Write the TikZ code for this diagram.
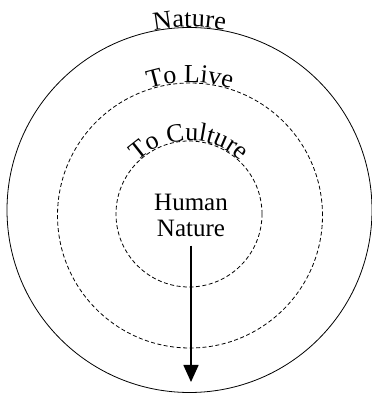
\documentclass[tikz,border=0pt]{standalone}
\usepackage{fontspec}
\setmainfont{Liberation Serif}
\usetikzlibrary{decorations.text,arrows.meta}
\begin{document}
\begin{tikzpicture}[x=1pt,y=1pt,
  ring/.style={circle,draw,inner sep=0pt,outer sep=0pt,line width=0.8pt},
  dashring/.style={ring,dash pattern=on 4pt off 2.5pt},
  arctext/.style={decorate,decoration={text along path,text align=center,raise=0.5pt,text={|\fontsize{26}{28}\selectfont|#1}}},
  lbl/.style={font=\fontsize{25}{26}\selectfont,align=center,inner sep=0pt}]
\useasboundingbox (0,0) rectangle (372,397);
\node[ring,minimum size=365pt] (outer) at (189.5,187) {};
\node[dashring,minimum size=265pt] (mid) at (190,181.5) {};
\node[dashring,minimum size=146pt] (inner) at (189,183) {};
\path[arctext=Nature] (outer.west) arc[start angle=180,end angle=0,radius=182.5pt];
\path[arctext=To Live] (mid.west) arc[start angle=180,end angle=0,radius=132.5pt];
\path[arctext=To Culture] (inner.west) arc[start angle=180,end angle=0,radius=73pt];
\node[lbl] (hn) at (191,182) {Human\\Nature};
\coordinate (tip) at (191,15);
\draw[line width=1.6pt,-{Triangle[width=15pt,length=17pt]}] ([yshift=-9pt]hn.south) -- (tip);
\end{tikzpicture}
\end{document}
